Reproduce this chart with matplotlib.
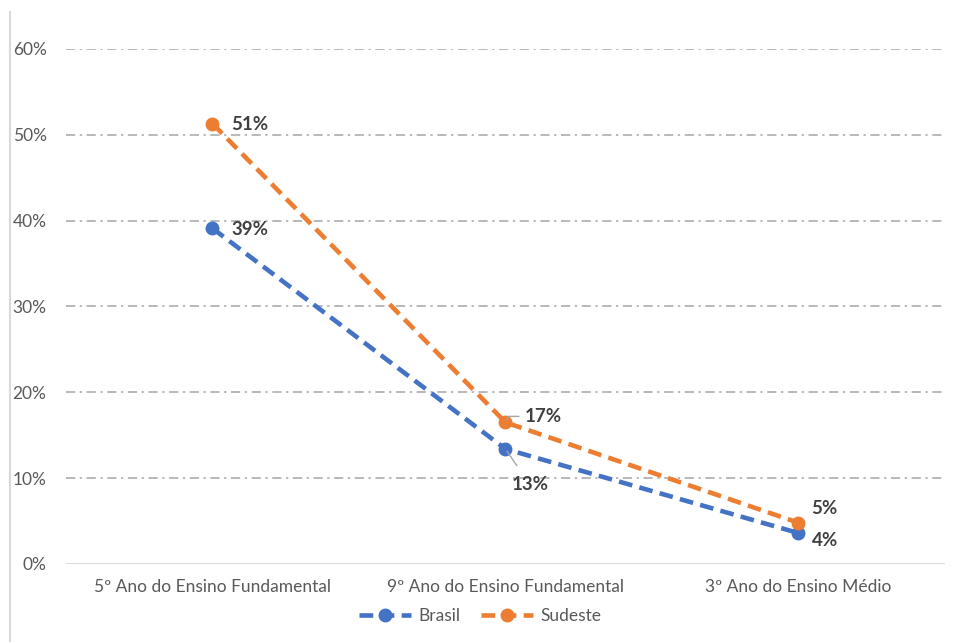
import matplotlib.pyplot as plt
from matplotlib.lines import Line2D

categories = ['5º Ano do Ensino Fundamental', '9º Ano do Ensino Fundamental', '3º Ano do Ensino Médio']
brasil = [0.391, 0.134, 0.036]
sudeste = [0.513, 0.165, 0.048]
brasil_labels = ['39%', '13%', '4%']
sudeste_labels = ['51%', '17%', '5%']
yticks = [0, 0.1, 0.2, 0.3, 0.4, 0.5, 0.6]
ytick_labels = ['0%', '10%', '20%', '30%', '40%', '50%', '60%']

plt.rcParams['font.family'] = ['Lato', 'DejaVu Sans']

fig = plt.figure(figsize=(9.6, 6.42), dpi=100)
ax = fig.add_axes([0.06875, 0.1215, 0.9156, 0.8022])

x = list(range(len(categories)))
dash = (3.0, 1.6)
ax.plot(x, brasil, color='#4472C4', lw=3.3, dashes=dash, marker='o', ms=9,
        label='Brasil', zorder=3)
ax.plot(x, sudeste, color='#ED7D31', lw=3.3, dashes=dash, marker='o', ms=9,
        label='Sudeste', zorder=3)

ax.set_xlim(-0.5, 2.5)
ax.set_ylim(0, 0.6)
ax.set_yticks(yticks)
ax.set_yticklabels(ytick_labels)
ax.set_xticks(x)
ax.set_xticklabels(categories)
ax.tick_params(length=0, labelsize=12.5, labelcolor='#595959', pad=11)
ax.tick_params(axis='y', pad=14)
for s in ax.spines.values():
    s.set_visible(False)
for v in yticks[1:]:
    ax.axhline(v, color='#A6A6A6', lw=1.1, dashes=(6, 3, 1.5, 3), zorder=1)
ax.axhline(0, color='#D9D9D9', lw=1.3, zorder=1)

lab = dict(fontsize=13.5, fontweight='bold', color='#404040', va='center', ha='left',
           textcoords='offset pixels')
ax.annotate(sudeste_labels[0], (x[0], sudeste[0]), xytext=(19, -1), **lab)
ax.annotate(brasil_labels[0], (x[0], brasil[0]), xytext=(19, -1), **lab)
ax.annotate(sudeste_labels[1], (x[1], sudeste[1]), xytext=(19, 6), **lab,
            arrowprops=dict(arrowstyle='-', color='#A6A6A6', lw=1, shrinkA=2, shrinkB=2,
                            connectionstyle='angle,angleA=0,angleB=60'))
ax.annotate(brasil_labels[1], (x[1], brasil[1]), xytext=(6, -36), **lab,
            arrowprops=dict(arrowstyle='-', color='#A6A6A6', lw=1, shrinkA=7, shrinkB=2))
ax.annotate(sudeste_labels[2], (x[2], sudeste[2]), xytext=(13, 14), **lab)
ax.annotate(brasil_labels[2], (x[2], brasil[2]), xytext=(13, -7), **lab)

handles = [Line2D([], [], color='#4472C4', lw=3.3, dashes=dash, marker='o', ms=9),
           Line2D([], [], color='#ED7D31', lw=3.3, dashes=dash, marker='o', ms=9)]
fig.legend(handles, ['Brasil', 'Sudeste'], loc='center', bbox_to_anchor=(0.5, 0.04),
           ncol=2, frameon=False, fontsize=12.5, labelcolor='#595959',
           handlelength=3.0, columnspacing=1.2, handletextpad=0.4)

fig.add_artist(Line2D([0.0104, 0.0104], [0, 0.982], color='#D9D9D9', lw=1.5,
                      transform=fig.transFigure))

fig.savefig('out.png', dpi=100)
